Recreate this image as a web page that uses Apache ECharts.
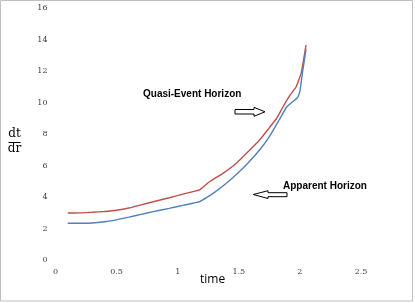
<!DOCTYPE html>
<html>
<head>
<meta charset="utf-8">
<script src="https://cdn.jsdelivr.net/npm/echarts@6/dist/echarts.min.js"></script>
<style>
html,body{margin:0;padding:0;background:#fff;}
#c{width:415px;height:303px;}
</style>
</head>
<body>
<div id="c"></div>
<script>
// Quasi-Event Horizon (red)
var timeQuasi = [0.1, 0.2, 0.3, 0.4, 0.5, 0.6, 0.7, 0.8, 0.93, 1.05, 1.18, 1.26, 1.37, 1.48, 1.59, 1.67, 1.75, 1.81, 1.86, 1.92, 1.97, 2.01, 2.03, 2.05];
var quasiEvent = [2.98, 2.99, 3.03, 3.08, 3.16, 3.3, 3.5, 3.7, 3.95, 4.2, 4.45, 4.97, 5.5, 6.14, 6.98, 7.62, 8.4, 9.0, 9.7, 10.48, 11.0, 11.85, 12.7, 13.65];
// Apparent Horizon (blue)
var timeApparent = [0.1, 0.2, 0.3, 0.4, 0.5, 0.6, 0.7, 0.8, 0.93, 1.05, 1.18, 1.29, 1.43, 1.56, 1.67, 1.75, 1.83, 1.89, 1.94, 1.98, 2.0, 2.02, 2.035, 2.05];
var apparent = [2.33, 2.33, 2.35, 2.43, 2.55, 2.72, 2.9, 3.07, 3.28, 3.48, 3.7, 4.23, 5.08, 6.03, 6.98, 7.83, 8.89, 9.7, 10.05, 10.3, 10.7, 11.85, 12.6, 13.4];
var xTicks = [0, 0.5, 1, 1.5, 2, 2.5];
var yTicks = [0, 2, 4, 6, 8, 10, 12, 14, 16];

function pairs(xs, ys){ return xs.map(function(x,i){ return [x, ys[i]]; }); }

var chart = echarts.init(document.getElementById('c'));
chart.setOption({
  animation: false,
  backgroundColor: '#fff',
  grid: {left: 55.5, right: 54, top: 8, bottom: 43},
  xAxis: {
    type: 'value', min: xTicks[0], max: xTicks[xTicks.length-1], interval: 0.5,
    axisLine: {show: false}, axisTick: {show: false}, splitLine: {show: false},
    axisLabel: {fontSize: 8, color: '#404040', margin: 8, fontFamily: 'DejaVu Serif',
      formatter: function(v){ return String(v); }}
  },
  yAxis: {
    type: 'value', min: yTicks[0], max: yTicks[yTicks.length-1], interval: 2,
    axisLine: {show: false}, axisTick: {show: false}, splitLine: {show: false},
    axisLabel: {fontSize: 8, color: '#404040', margin: 8, fontFamily: 'DejaVu Serif'}
  },
  series: [
    {type: 'line', data: pairs(timeQuasi, quasiEvent), showSymbol: false, smooth: 0.1,
      lineStyle: {color: '#c0504d', width: 1.4}},
    {type: 'line', data: pairs(timeApparent, apparent), showSymbol: false, smooth: 0.1,
      lineStyle: {color: '#4f81bd', width: 1.4}}
  ],
  graphic: [
    {type: 'rect', shape: {x: 0.5, y: 0.5, width: 412, height: 300.5}, style: {fill: 'none', stroke: '#bfbfbf', lineWidth: 1}},
    {type: 'text', left: 143, top: 89, style: {text: 'Quasi-Event Horizon', font: 'bold 10px "Liberation Sans", Arial', fill: '#000'}},
    {type: 'text', left: 283, top: 181, style: {text: 'Apparent Horizon', font: 'bold 10px "Liberation Sans", Arial', fill: '#000'}},
    {type: 'polygon', shape: {points: [[235,109.5],[254,109.5],[254,107.3],[265,111.8],[254,116.3],[254,114],[235,114]]},
      style: {fill: '#fff', stroke: '#000', lineWidth: 1}},
    {type: 'polygon', shape: {points: [[287,192.7],[268,192.7],[268,190.7],[253.3,194.5],[268,198.5],[268,196.7],[287,196.7]]},
      style: {fill: '#fff', stroke: '#000', lineWidth: 1}},
    {type: 'text', left: 200, top: 274, style: {text: 'time', font: '12px "Open Sans", "Liberation Sans"', fill: '#000'}},
    {type: 'text', x: 14.5, y: 134, style: {text: 'dt', font: '12px "DejaVu Serif", "Liberation Serif"', fill: '#000', align: 'center', verticalAlign: 'middle'}},
    {type: 'line', shape: {x1: 8.5, y1: 142.5, x2: 20.5, y2: 142.5}, style: {stroke: '#000', lineWidth: 1}},
    {type: 'text', x: 14.5, y: 148.5, style: {text: 'dr', font: '12px "DejaVu Serif", "Liberation Serif"', fill: '#000', align: 'center', verticalAlign: 'middle'}}
  ]
});
</script>
</body>
</html>
